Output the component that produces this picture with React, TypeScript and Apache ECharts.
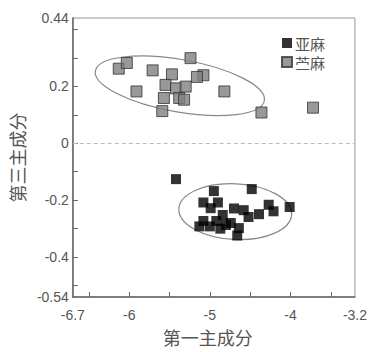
import React, { useEffect, useRef } from "react";
import * as echarts from "echarts";

// 苎麻 (ramie) points: [PC1, PC3]
const ramieX = [-6.13, -6.03, -5.91, -5.71, -5.47, -5.55, -5.42, -5.57, -5.38, -5.59, -5.24, -5.08, -5.16, -5.3, -5.32, -4.82, -4.36, -3.72];
const ramieY = [0.262, 0.282, 0.182, 0.256, 0.242, 0.205, 0.193, 0.159, 0.159, 0.113, 0.299, 0.239, 0.233, 0.199, 0.153, 0.182, 0.108, 0.125];

// 亚麻 (flax) points
const flaxX = [-5.42, -4.95, -4.48, -5.08, -4.9, -4.99, -4.7, -4.58, -4.39, -4.27, -4.01, -4.21, -4.84, -5.08, -4.92, -5.13, -5.0, -4.8, -4.64, -4.66, -4.52, -4.74, -4.87];
const flaxY = [-0.126, -0.168, -0.161, -0.208, -0.208, -0.228, -0.229, -0.235, -0.249, -0.216, -0.224, -0.239, -0.252, -0.273, -0.273, -0.292, -0.292, -0.287, -0.298, -0.324, -0.259, -0.28, -0.3];

// axis ticks / labels
const xTicks = [-6.5, -6, -5.5, -5, -4.5, -4, -3.5];
const xLabels = [-6.7, -6, -5, -4, -3.2];
const yTicks = [-0.5, -0.4, -0.3, -0.2, -0.1, 0, 0.1, 0.2, 0.3, 0.4];
const yLabels = [-0.54, -0.4, -0.2, 0, 0.2, 0.44];

// confidence ellipses: [centerX, centerY, semiAxisX, semiAxisY, tiltDeg(clockwise)]
const ramieEllipse = [-5.372, 0.2018, 1.064, 0.092, 10];
const flaxEllipse = [-4.685, -0.2403, 0.7, 0.0977, 3];

const numFont = "'Liberation Sans', Arial, sans-serif";
const cjkFont = "'Noto Sans CJK SC', sans-serif";

export default function App() {
  const ref = useRef<HTMLDivElement>(null);
  useEffect(() => {
    if (!ref.current) return;
    const chart = echarts.init(ref.current, null, { renderer: "svg" });
    const zip = (xs: number[], ys: number[]) => xs.map((x, i) => [x, ys[i]]);
    chart.setOption({
      animation: false,
      backgroundColor: "#fff",
      grid: { left: 66, right: 14, top: 18, bottom: 48, show: true, borderColor: "#999", borderWidth: 1 },
      legend: {
        orient: "vertical",
        left: 276,
        top: 30,
        itemWidth: 10,
        itemHeight: 10,
        itemGap: 3,
        textStyle: { fontFamily: cjkFont, fontSize: 15, lineHeight: 16, color: "#555", padding: [0, 0, 0, -2] },
        data: [
          { name: "亚麻", icon: "rect" },
          { name: "苎麻", icon: "rect" },
        ],
      },
      xAxis: {
        type: "value",
        min: -6.7,
        max: -3.2,
        name: "第一主成分",
        nameLocation: "middle",
        nameGap: 30,
        nameTextStyle: { fontFamily: cjkFont, fontSize: 18, lineHeight: 20, color: "#555", padding: [0, 12, 0, 0] },
        axisLine: { onZero: false, lineStyle: { color: "#666", width: 1.5 } },
        axisTick: { inside: true, length: 5, lineStyle: { color: "#666" }, customValues: xTicks },
        axisLabel: { customValues: xLabels, fontFamily: numFont, fontSize: 14, color: "#555", margin: 11 },
        splitLine: { show: false },
      },
      yAxis: {
        type: "value",
        min: -0.54,
        max: 0.44,
        name: "第三主成分",
        nameLocation: "middle",
        nameGap: 37,
        nameTextStyle: { fontFamily: cjkFont, fontSize: 18, color: "#555" },
        axisLine: { onZero: false, lineStyle: { color: "#666", width: 1.5 } },
        axisTick: { inside: true, length: 5, lineStyle: { color: "#666" }, customValues: yTicks },
        axisLabel: { customValues: yLabels, fontFamily: numFont, fontSize: 14, color: "#555", margin: 4 },
        splitLine: { show: false },
      },
      series: [
        {
          name: "亚麻",
          type: "scatter",
          symbol: "rect",
          symbolSize: 10,
          itemStyle: { color: "#000" },
          data: zip(flaxX, flaxY),
          z: 3,
        },
        {
          name: "苎麻",
          type: "scatter",
          symbol: "rect",
          symbolSize: 11,
          itemStyle: { color: "#808080", borderColor: "#333", borderWidth: 1 },
          data: zip(ramieX, ramieY),
          markLine: {
            silent: true,
            symbol: "none",
            label: { show: false },
            lineStyle: { color: "#bbb", type: [4, 3], width: 1 },
            data: [{ yAxis: 0 }],
          },
          z: 4,
        },
      ],
    });

    const ell = (p: number[]) => {
      const c = chart.convertToPixel({ gridIndex: 0 }, [p[0], p[1]]) as number[];
      const ex = chart.convertToPixel({ gridIndex: 0 }, [p[0] + p[2], p[1]]) as number[];
      const ey = chart.convertToPixel({ gridIndex: 0 }, [p[0], p[1] + p[3]]) as number[];
      return {
        type: "ellipse",
        x: c[0],
        y: c[1],
        rotation: (-p[4] * Math.PI) / 180,
        shape: { cx: 0, cy: 0, rx: ex[0] - c[0], ry: c[1] - ey[1] },
        style: { fill: "none", stroke: "#888", lineWidth: 1.2 },
        silent: true,
        z: 1,
      };
    };
    chart.setOption({ graphic: [ell(ramieEllipse), ell(flaxEllipse)] });

    return () => chart.dispose();
  }, []);
  return (
    <div
      ref={ref}
      style={{ position: "absolute", left: 0, top: 0, width: 370, height: 352 }}
    />
  );
}
